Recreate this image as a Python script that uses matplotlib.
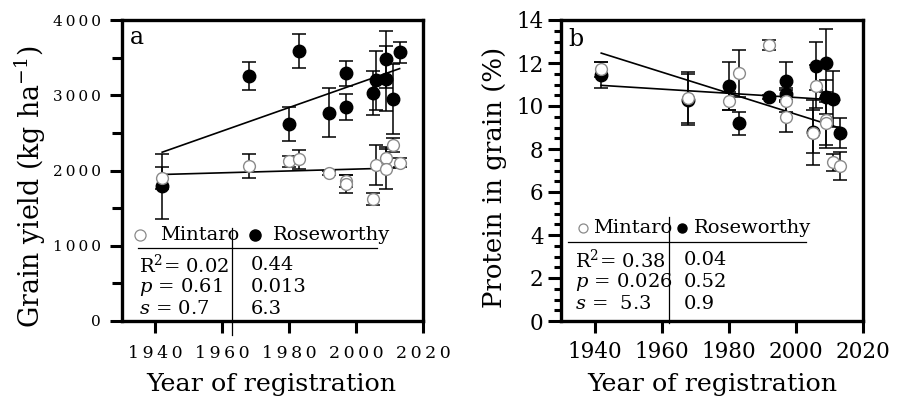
import matplotlib
matplotlib.use("Agg")
import matplotlib.pyplot as plt
from matplotlib.ticker import MultipleLocator

plt.rcParams["font.family"] = ["DejaVu Serif"]
plt.rcParams["mathtext.fontset"] = "dejavuserif"

# year of registration of each cultivar (shared by both sites)
years = [1942, 1968, 1980, 1983, 1992, 1997, 1997, 2005, 2006, 2009, 2009, 2011, 2013]

# panel a: grain yield (kg/ha)
yield_mintaro = [1900, 2060, 2120, 2150, 1970, 1860, 1820, 1620, 2070, 2170, 2020, 2340, 2100]
yield_mintaro_err = [150, 155, 75, 125, 30, 80, 120, 80, 265, 140, 260, 90, 60]
yield_rose = [1790, 3260, 2620, 3590, 2770, 3290, 2840, 3030, 3200, 3480, 3220, 2950, 3570]
yield_rose_err = [430, 185, 230, 225, 330, 165, 170, 290, 390, 380, 430, 465, 140]

# panel b: grain protein (%)
protein_mintaro = [11.7, 10.39, 10.23, 11.52, 12.84, 10.23, 9.47, 8.76, 10.93, 9.35, 9.19, 7.38, 7.22]
protein_mintaro_err = [0.35, 1.2, 0.4, 1.1, 0.25, 0.5, 0.7, 1.5, 1.0, 1.3, 1.0, 0.4, 0.65]
protein_rose = [11.45, 10.3, 10.93, 9.19, 10.43, 11.16, 10.54, 8.8, 11.86, 11.98, 10.43, 10.31, 8.73]
protein_rose_err = [0.6, 1.2, 1.1, 0.55, 0.1, 0.9, 0.3, 1.0, 1.1, 1.6, 0.8, 1.3, 0.7]

# regression lines (end points)
fit_years = [1942, 2013]
yield_fit_mintaro = [1947, 2035]
yield_fit_rose = [2243, 3354]
protein_fit_mintaro = [12.46, 8.98]
protein_fit_rose = [10.96, 10.27]

year_ticks = [1940, 1960, 1980, 2000, 2020]
yield_ticks = [0, 1000, 2000, 3000, 4000]
protein_ticks = [0, 2, 4, 6, 8, 10, 12, 14]

site_names = ["Mintaro", "Roseworthy"]
yield_stats_mintaro = ["R$^2$= 0.02", "$p$ = 0.61", "$s$ = 0.7"]
yield_stats_rose = ["0.44", "0.013", "6.3"]
protein_stats_mintaro = ["R$^2$= 0.38", "$p$ = 0.026", "$s$ =  5.3"]
protein_stats_rose = ["0.04", "0.52", "0.9"]

GREY = "#8a8a8a"


def spaced(v):
    # letter-spaced tick labels as in panel a
    return "\u2009".join(str(v))


def draw_points(ax, m, m_err, r, r_err, fit_m, fit_r):
    ax.errorbar(years, r, yerr=r_err, fmt="none", ecolor="black",
                elinewidth=1.1, capsize=5, capthick=1.1, zorder=2)
    ax.errorbar(years, m, yerr=m_err, fmt="none", ecolor="black",
                elinewidth=1.1, capsize=5, capthick=1.1, zorder=2)
    ax.plot(fit_years, fit_r, color="black", lw=1.2, zorder=3)
    ax.plot(fit_years, fit_m, color="black", lw=1.2, zorder=3)
    ax.plot(years, r, "o", ms=9, mfc="black", mec="black", zorder=4)
    ax.plot(years, m, "o", ms=8.5, mfc="white", mec=GREY, mew=1.0, zorder=5)


def draw_table(ax, hy, lx, vline, hline, mk, names, c1x, c2x, rows_y, col1, col2, msize):
    tr = ax.transAxes
    ax.plot([mk[0]], [hy], "o", ms=msize, mfc="white", mec=GREY, mew=0.9,
            transform=tr, clip_on=False)
    ax.text(lx[0], hy, names[0], transform=tr, va="center", ha="left", fontsize=14)
    ax.plot([mk[1]], [hy], "o", ms=msize, mfc="black", mec="black",
            transform=tr, clip_on=False)
    ax.text(lx[1], hy, names[1], transform=tr, va="center", ha="left", fontsize=14)
    ax.plot([vline[0], vline[0]], [vline[1], vline[2]], color="black", lw=0.9,
            transform=tr, clip_on=False)
    ax.plot([hline[1], hline[2]], [hline[0], hline[0]], color="black", lw=0.9,
            transform=tr, clip_on=False)
    for y, a, b in zip(rows_y, col1, col2):
        ax.text(c1x, y, a, transform=tr, va="center", ha="left", fontsize=14)
        ax.text(c2x, y, b, transform=tr, va="center", ha="left", fontsize=14)


fig = plt.figure(figsize=(9, 4), dpi=100)
ax1 = fig.add_axes([0.1356, 0.1975, 0.3344, 0.7525])
ax2 = fig.add_axes([0.6233, 0.1975, 0.3356, 0.7525])

for ax in (ax1, ax2):
    for sp in ax.spines.values():
        sp.set_linewidth(2.4)
    ax.set_xlim(1930, 2020)
    ax.set_xticks(year_ticks)

# panel a
draw_points(ax1, yield_mintaro, yield_mintaro_err, yield_rose, yield_rose_err,
            yield_fit_mintaro, yield_fit_rose)
ax1.set_ylim(0, 4000)
ax1.set_yticks(yield_ticks)
ax1.set_yticklabels([spaced(v) for v in yield_ticks], fontsize=11)
ax1.set_xticklabels([spaced(v) for v in year_ticks], fontsize=12.5)
ax1.yaxis.set_minor_locator(MultipleLocator(500))
ax1.tick_params(axis="x", direction="out", length=8.5, width=2.2, pad=9)
ax1.tick_params(axis="y", which="major", direction="out", length=9, width=2.2, pad=6)
ax1.tick_params(axis="y", which="minor", direction="out", length=7, width=2.2)
ax1.text(0.05, 0.943, "a", transform=ax1.transAxes, fontsize=17, va="center", ha="center")
draw_table(ax1, 0.286, (0.126, 0.502), (0.365, 0.309, -0.047), (0.2425, 0.053, 0.847),
           (0.06, 0.442), site_names, 0.056, 0.429, (0.186, 0.113, 0.04),
           yield_stats_mintaro, yield_stats_rose, 8)

# panel b
draw_points(ax2, protein_mintaro, protein_mintaro_err, protein_rose, protein_rose_err,
            protein_fit_mintaro, protein_fit_rose)
ax2.set_ylim(0, 14)
ax2.set_yticks(protein_ticks)
ax2.yaxis.set_minor_locator(MultipleLocator(0.5))
ax2.tick_params(axis="both", which="major", labelsize=15.5)
ax2.tick_params(axis="x", direction="out", length=8.5, width=2.2, pad=6)
ax2.tick_params(axis="y", which="major", direction="out", length=9.5, width=2.2, pad=3)
ax2.tick_params(axis="y", which="minor", direction="out", length=5, width=2.2)
ax2.text(0.05, 0.934, "b", transform=ax2.transAxes, fontsize=17, va="center", ha="center")
draw_table(ax2, 0.309, (0.106, 0.44), (0.358, 0.345, -0.007), (0.262, 0.023, 0.811),
           (0.073, 0.40), site_names, 0.046, 0.407, (0.203, 0.13, 0.056),
           protein_stats_mintaro, protein_stats_rose, 6.5)

# axis titles
fig.text(0.302, 0.04, "Year of registration", fontsize=18.3, ha="center", va="center")
fig.text(0.791, 0.04, "Year of registration", fontsize=18.3, ha="center", va="center")
fig.text(0.034, 0.532, "Grain yield (kg ha$^{-1}$)", fontsize=19.3, rotation=90,
         ha="center", va="center")
fig.text(0.549, 0.5575, "Protein in grain (%)", fontsize=18.7, rotation=90,
         ha="center", va="center")

fig.savefig("out.png", dpi=100)
